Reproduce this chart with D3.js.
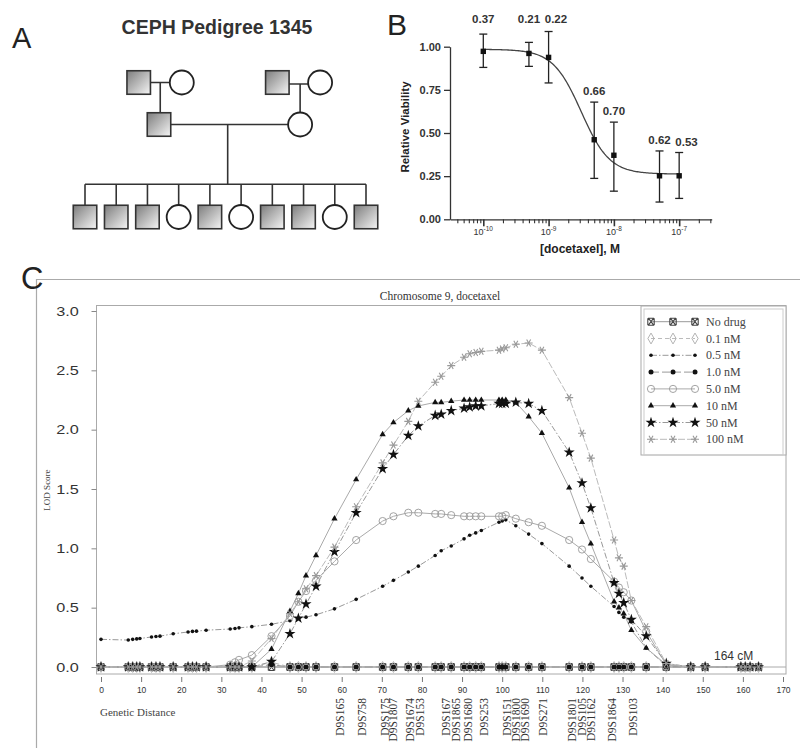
<!DOCTYPE html>
<html><head><meta charset="utf-8">
<script src="https://cdn.jsdelivr.net/npm/d3@7"></script>
<style>body{margin:0;background:#fff;} svg{display:block;}</style>
</head><body>
<svg id="fig" width="800" height="751"></svg>
<script>
// ================= DATA =================
// Panel A – pedigree
const pedTitle = "CEPH Pedigree 1345";
const childSex = ["M","M","M","F","M","F","M","M","F","M"];

// Panel B – dose response
const bConc = [1e-10, 5e-10, 1e-9, 5e-9, 1e-8, 5e-8, 1e-7];
const bMean = [0.973, 0.961, 0.938, 0.461, 0.371, 0.252, 0.252];
const bHigh = [1.073, 1.025, 1.088, 0.679, 0.563, 0.396, 0.387];
const bLow  = [0.880, 0.886, 0.790, 0.237, 0.163, 0.100, 0.121];
const bNote = ["0.37","0.21","0.22","0.66","0.70","0.62","0.53"];
const bYTicks = [0, 0.25, 0.5, 0.75, 1.0];
const bXTickExp = [-10, -9, -8, -7];
const fitTop = 0.985, fitBottom = 0.262, fitLogEC50 = -8.5, fitHill = 2.0;

// Panel C – LOD scores along chromosome 9
const cTitle = "Chromosome 9, docetaxel";
const cM = [0, 6.8, 7.9, 8.9, 9.7, 12.6, 13.7, 14.7, 18.0, 21.7, 22.8, 23.8, 26.2, 32.2, 33.4, 34.4,
  37.6, 42.5, 47.1, 49.2, 51.1, 53.6, 58.2, 63.6, 70.2, 72.9, 76.6, 79.1, 83.3, 84.8, 87.3, 90.5,
  91.9, 93.4, 94.8, 99.2, 100.0, 100.9, 103.4, 106.6, 109.9, 116.7, 119.9, 122.1, 127.9, 129.1,
  130.3, 132.2, 135.9, 140.9, 147.0, 150.6, 159.5, 160.6, 161.8, 163.9];
const lodNoDrug = [0,0,0,0,0,0,0,0,0,0,0,0,0,0,0,0, 0,0,0,0,0,0,0,0,0,0,0,0,0,0,0,0, 0,0,0,0,0,0,0,0,0,0,0,0,0,0, 0,0,0,0,0,0,0,0,0,0];
const lod01 = [0,0,0,0,0,0,0,0,0,0,0,0,0,0,0,0, 0,0.04,0,0,0,0,0,0,0,0,0,0,0,0,0,0, 0,0,0,0,0,0,0,0,0,0,0,0,0,0, 0,0,0,0,0,0,0,0,0,0];
const lod05 = [0.233,0.227,0.233,0.237,0.24,0.253,0.257,0.26,0.28,0.295,0.30,0.302,0.31,0.32,0.325,0.33,
  0.34,0.36,0.39,0.41,0.42,0.44,0.49,0.57,0.68,0.73,0.80,0.85,0.94,0.98,1.02,1.08,
  1.11,1.13,1.15,1.22,1.23,1.24,1.19,1.12,1.04,0.85,0.75,0.68,0.51,0.46,
  0.42,0.38,0.16,0.01,0,0,0,0,0,0];
const lod10 = [0,0,0,0,0,0,0,0,0,0,0,0,0,0,0,0, 0,0.02,0,0,0,0,0,0,0,0,0,0,0,0,0,0, 0,0,0,0,0,0,0,0,0,0,0,0,0,0, 0,0,0,0,0,0,0,0,0,0];
const lod5 = [0,0,0,0,0,0,0,0,0,0,0,0,0,0.02,0.04,0.06,
  0.10,0.26,0.43,0.55,0.64,0.73,0.89,1.07,1.23,1.27,1.30,1.30,1.29,1.29,1.28,1.27,
  1.27,1.27,1.27,1.27,1.27,1.28,1.25,1.22,1.19,1.07,0.99,0.91,0.72,0.67,
  0.63,0.56,0.30,0.02,0,0,0,0,0,0];
const lod10nM = [0,0,0,0,0,0,0,0,0,0,0,0,0,0,0,0,
  0,0.15,0.47,0.62,0.77,0.94,1.25,1.58,1.96,2.06,2.16,2.20,2.23,2.23,2.24,2.25,
  2.25,2.25,2.25,2.25,2.25,2.25,2.23,2.11,1.97,1.51,1.22,1.04,0.55,0.50,
  0.45,0.31,0.16,0.02,0,0,0,0,0,0];
const lod50nM = [0,0,0,0,0,0,0,0,0,0,0,0,0,0,0,0,
  0,0.045,0.28,0.41,0.53,0.68,0.97,1.30,1.67,1.79,1.95,2.03,2.12,2.13,2.16,2.18,
  2.19,2.20,2.20,2.22,2.22,2.22,2.23,2.22,2.16,1.81,1.55,1.34,0.71,0.62,
  0.54,0.40,0.26,0.03,0,0,0,0,0,0];
const lod100nM = [0,0,0,0,0,0,0,0,0,0,0,0,0,0,0,0,
  0.05,0.24,0.45,0.55,0.66,0.77,1.01,1.35,1.72,1.87,2.07,2.24,2.40,2.45,2.54,2.61,
  2.64,2.65,2.66,2.67,2.68,2.69,2.72,2.73,2.67,2.27,1.97,1.76,1.07,0.92,
  0.85,0.56,0.34,0.03,0,0,0,0,0,0];
const seriesNames = ["No drug","0.1 nM","0.5 nM","1.0 nM","5.0 nM","10 nM","50 nM","100 nM"];
const cYTicks = [0, 0.5, 1.0, 1.5, 2.0, 2.5, 3.0];
const cXTicks = d3.range(0, 171, 10);
const markerNames = ["D9S165","D9S758","D9S175","D9S1807","D9S1674","D9S153","D9S167","D9S1865","D9S1680",
  "D9S253","D9S151","D9S1800","D9S1690","D9S271","D9S1801","D9S105","D9S1162","D9S1864","D9S103"];
const markerPos = [59.6, 65.1, 70.8, 72.8, 77.0, 79.5, 86.0, 88.5, 91.5, 95.5, 101.2, 103.4, 105.7, 110.2,
  117.4, 119.9, 122.1, 127.4, 132.6];

// ================= DRAW =================
const SANS = "'Liberation Sans', Arial, sans-serif";
const SERIF = "'Liberation Serif', 'Times New Roman', serif";
const svg = d3.select("#fig");
svg.append("rect").attr("width",800).attr("height",751).attr("fill","#fff");
const defs = svg.append("defs");
const grad = defs.append("linearGradient").attr("id","sqGrad").attr("x1",0).attr("y1",0).attr("x2",1).attr("y2",1);
grad.append("stop").attr("offset","0%").attr("stop-color","#7c7c7c");
grad.append("stop").attr("offset","100%").attr("stop-color","#f6f6f6");

// ---------- Panel A ----------
const gA = svg.append("g");
gA.append("text").attr("x",12).attr("y",48).attr("font-family",SANS).attr("font-size",29).attr("fill","#222").text("A");
gA.append("text").attr("x",217).attr("y",34).attr("text-anchor","middle").attr("font-family",SANS)
  .attr("font-weight","bold").attr("font-size",19.5).attr("fill","#333").text(pedTitle);

const xA = d3.scaleLinear().domain([0, childSex.length-1]).range([85, 366]);
const genY = [82.5, 124.5, 217];
const S = 23.5;
const ped = [
  {sex:"M", slot:1.72, gen:0}, {sex:"F", slot:3.1, gen:0},
  {sex:"M", slot:6.16, gen:0}, {sex:"F", slot:7.53, gen:0},
  {sex:"M", slot:2.37, gen:1}, {sex:"F", slot:6.89, gen:1}
].concat(childSex.map((s,i)=>({sex:s, slot:i, gen:2})));
const lineA = gA.append("g").attr("stroke","#333").attr("stroke-width",1.6).attr("fill","none");
const P = ped.map(d=>({...d, x:xA(d.slot), y:genY[d.gen]}));
lineA.append("line").attr("x1",P[0].x).attr("x2",P[1].x).attr("y1",P[0].y).attr("y2",P[0].y);
lineA.append("line").attr("x1",P[2].x).attr("x2",P[3].x).attr("y1",P[2].y+1.5).attr("y2",P[2].y+1.5);
lineA.append("line").attr("x1",(P[0].x+P[1].x)/2).attr("x2",(P[0].x+P[1].x)/2).attr("y1",P[0].y).attr("y2",P[4].y);
lineA.append("line").attr("x1",P[5].x).attr("x2",P[5].x).attr("y1",P[2].y+1.5).attr("y2",P[5].y);
lineA.append("line").attr("x1",P[4].x).attr("x2",P[5].x).attr("y1",P[4].y).attr("y2",P[4].y);
const midX = xA(4.57), sibY = 184.3;
lineA.append("line").attr("x1",midX).attr("x2",midX).attr("y1",P[4].y).attr("y2",sibY);
lineA.append("line").attr("x1",xA(0)).attr("x2",xA(childSex.length-1)).attr("y1",sibY).attr("y2",sibY);
lineA.selectAll("line.kid").data(childSex).join("line").attr("class","kid")
  .attr("x1",(d,i)=>xA(i)).attr("x2",(d,i)=>xA(i)).attr("y1",sibY).attr("y2",genY[2]);
const nodes = gA.selectAll("g.ind").data(P).join("g").attr("class","ind")
  .attr("transform",d=>`translate(${d.x},${d.y})`);
nodes.filter(d=>d.sex==="M").append("rect").attr("x",-S/2).attr("y",-S/2).attr("width",S).attr("height",S)
  .attr("fill","url(#sqGrad)").attr("stroke","#333").attr("stroke-width",1.6);
nodes.filter(d=>d.sex==="F").append("circle").attr("r",12).attr("fill","#fff").attr("stroke","#222").attr("stroke-width",1.8);

// ---------- Panel B ----------
const gB = svg.append("g");
gB.append("text").attr("x",387).attr("y",35).attr("font-family",SANS).attr("font-size",30).attr("fill","#222").text("B");
const xB = d3.scaleLog().domain([3.09e-11, 3.15e-7]).range([450, 711.7]);
const yB = d3.scaleLinear().domain([0,1]).range([219.3, 46.7]);
const yAxB = gB.append("g").attr("transform","translate(450,0)")
  .call(d3.axisLeft(yB).tickValues(bYTicks).tickFormat(d3.format(".2f")).tickSize(6).tickSizeOuter(0));
yAxB.selectAll("text").attr("font-family",SANS).attr("font-size",11).attr("font-weight","bold").attr("fill","#333");
yAxB.selectAll("path,line").attr("stroke","#333").attr("stroke-width",1.3);
const minors = [];
for (let e=-11; e<=-7; e++) for (let k=1; k<=9; k++) { const v=k*Math.pow(10,e); if (v>=3.2e-11 && v<=3.15e-7) minors.push(v); }
const isMajor = d => bXTickExp.some(e=>Math.abs(Math.log10(d)-e)<1e-6);
const xAxB = gB.append("g").attr("transform","translate(0,219.3)")
  .call(d3.axisBottom(xB).tickValues(minors).tickFormat("").tickSize(4).tickSizeOuter(0));
xAxB.selectAll("line").attr("stroke-width",d=>isMajor(d)?1.6:1.1).attr("y2",d=>isMajor(d)?7:4);
xAxB.selectAll("path,line").attr("stroke","#333");
xAxB.select("path").attr("stroke-width",1.3);
const xl = gB.selectAll("text.xt").data(bXTickExp).join("text").attr("class","xt")
  .attr("x",d=>xB(Math.pow(10,d))).attr("y",235).attr("text-anchor","middle")
  .attr("font-family",SANS).attr("font-size",9).attr("fill","#333");
xl.append("tspan").text("10");
xl.append("tspan").attr("dy",-4).attr("font-size",6.5).text(d=>"-"+(-d));
gB.append("text").attr("x",580).attr("y",253).attr("text-anchor","middle").attr("font-family",SANS)
  .attr("font-weight","bold").attr("font-size",12).attr("fill","#222").text("[docetaxel], M");
gB.append("text").attr("transform","translate(409,127) rotate(-90)").attr("text-anchor","middle").attr("font-family",SANS)
  .attr("font-weight","bold").attr("font-size",11.5).attr("fill","#222").text("Relative Viability");
const fit = lc => fitBottom + (fitTop-fitBottom)/(1+Math.pow(10,(lc-fitLogEC50)*fitHill));
const fitX = d3.range(-10, -6.999, 0.02);
gB.append("path").datum(fitX).attr("fill","none").attr("stroke","#444").attr("stroke-width",1.3)
  .attr("d", d3.line().x(d=>xB(Math.pow(10,d))).y(d=>yB(fit(d))));
const pB = gB.selectAll("g.pt").data(bConc).join("g").attr("class","pt");
pB.append("line").attr("x1",d=>xB(d)).attr("x2",d=>xB(d)).attr("y1",(d,i)=>yB(bLow[i])).attr("y2",(d,i)=>yB(bHigh[i]))
  .attr("stroke","#222").attr("stroke-width",1.3);
pB.append("line").attr("x1",d=>xB(d)-4).attr("x2",d=>xB(d)+4).attr("y1",(d,i)=>yB(bLow[i])).attr("y2",(d,i)=>yB(bLow[i]))
  .attr("stroke","#222").attr("stroke-width",1.3);
pB.append("line").attr("x1",d=>xB(d)-4).attr("x2",d=>xB(d)+4).attr("y1",(d,i)=>yB(bHigh[i])).attr("y2",(d,i)=>yB(bHigh[i]))
  .attr("stroke","#222").attr("stroke-width",1.3);
pB.append("rect").attr("x",d=>xB(d)-2.7).attr("y",(d,i)=>yB(bMean[i])-2.7).attr("width",5.4).attr("height",5.4).attr("fill","#111");
// annotation placement: above error bar, top row for bars reaching 1.0, shifted right if colliding with previous label
const notePos = [];
bConc.forEach((c,i)=>{
  let x = xB(c), y = bHigh[i] >= 1 ? 23 : yB(bHigh[i]) - 7;
  const prev = notePos[i-1];
  if (prev && Math.abs(prev.y - y) < 11 && x - prev.x < 27) x = prev.x + 27;
  notePos.push({x,y});
});
gB.selectAll("text.note").data(bNote).join("text").attr("class","note")
  .attr("x",(d,i)=>notePos[i].x).attr("y",(d,i)=>notePos[i].y)
  .attr("text-anchor","middle").attr("font-family",SANS).attr("font-weight","bold").attr("font-size",11.5).attr("fill","#333")
  .text(d=>d);

// ---------- Panel C ----------
const gC = svg.append("g");
gC.append("line").attr("x1",36).attr("x2",800).attr("y1",279.5).attr("y2",279.5).attr("stroke","#aaa").attr("stroke-width",1.2);
gC.append("line").attr("x1",36.5).attr("x2",36.5).attr("y1",279).attr("y2",748).attr("stroke","#aaa").attr("stroke-width",1.2);
gC.append("text").attr("x",21).attr("y",289).attr("font-family",SANS).attr("font-size",31).attr("fill","#222").text("C");
const xC = d3.scaleLinear().domain([0,170]).range([101,783]);
const yC = d3.scaleLinear().domain([0,3]).range([667,311]);
gC.append("rect").attr("x",96.5).attr("y",305.5).attr("width",689.5).attr("height",368.5).attr("fill","none").attr("stroke","#aaa").attr("stroke-width",1);
gC.append("line").attr("x1",96.5).attr("x2",786).attr("y1",yC(0)).attr("y2",yC(0)).attr("stroke","#aaa").attr("stroke-width",1);
gC.append("text").attr("x",440).attr("y",300).attr("text-anchor","middle").attr("font-family",SERIF).attr("font-size",11.5).attr("fill","#333").text(cTitle);
const yAxC = gC.append("g").attr("transform","translate(96.5,0)")
  .call(d3.axisLeft(yC).tickValues(cYTicks).tickFormat(d3.format(".1f")).tickSize(5).tickPadding(6));
yAxC.select(".domain").remove();
yAxC.selectAll("line").attr("stroke","#888");
yAxC.selectAll("text").attr("font-family",SANS).attr("font-size",12.5).attr("fill","#333")
  .attr("transform",function(){ const x=+d3.select(this).attr("x"); return `translate(${x*0.3},0) scale(1.3,1)`; });
const xAxC = gC.append("g").attr("transform","translate(0,674)")
  .call(d3.axisBottom(xC).tickValues(cXTicks).tickFormat(d3.format("d")).tickSize(8).tickPadding(5));
xAxC.select(".domain").remove();
xAxC.selectAll("line").attr("stroke","#777").attr("y1",3);
xAxC.selectAll("text").attr("font-family",SANS).attr("font-size",8.5).attr("fill","#333");
gC.append("text").attr("x",100).attr("y",716).attr("font-family",SERIF).attr("font-size",11).attr("fill","#444").text("Genetic Distance");
gC.append("text").attr("transform","translate(50,490) rotate(-90)").attr("text-anchor","middle").attr("font-family",SERIF)
  .attr("font-size",9).attr("fill","#444").text("LOD Score");
gC.append("text").attr("x",714).attr("y",660).attr("font-family",SANS).attr("font-size",12).attr("fill","#333").text("164  cM");
gC.selectAll("text.mk").data(markerNames).join("text").attr("class","mk")
  .attr("transform",(d,i)=>`translate(${xC(markerPos[i])},698) rotate(-90)`).attr("dy","0.35em")
  .attr("text-anchor","end").attr("font-family",SERIF).attr("font-size",11.5).attr("fill","#333").text(d=>d);

function drawMarker(g, type){
  switch(type){
    case "boxx": g.append("path").attr("d","M-3,-3.5H3 M-3,3.5H3 M-2.6,-3.5L2.6,3.5 M2.6,-3.5L-2.6,3.5 M-3.2,-3.5V3.5 M3.2,-3.5V3.5").attr("fill","none").attr("stroke","#444").attr("stroke-width",1.1); break;
    case "diamond": g.append("path").attr("d",d3.symbol(d3.symbolDiamond,34)()).attr("fill","none").attr("stroke","#aaa").attr("stroke-width",0.9); break;
    case "dotS": g.append("circle").attr("r",1.8).attr("fill","#111"); break;
    case "dotL": g.append("circle").attr("r",2.5).attr("fill","#111"); break;
    case "circle": g.append("circle").attr("r",3.6).attr("fill","none").attr("stroke","#999").attr("stroke-width",0.9); break;
    case "tri": g.append("path").attr("d",d3.symbol(d3.symbolTriangle,17)()).attr("fill","#111"); break;
    case "star": g.append("path").attr("d",d3.symbol(d3.symbolStar,38)()).attr("fill","#111"); break;
    case "ast": g.append("path").attr("d","M-4,0H4 M-2,-3.5L2,3.5 M2,-3.5L-2,3.5").attr("fill","none").attr("stroke","#999").attr("stroke-width",1.1); break;
  }
}
const series = [
  {name:seriesNames[0], v:lodNoDrug, m:"boxx", dash:null, col:"#999"},
  {name:seriesNames[1], v:lod01, m:"diamond", dash:"4,3", col:"#bbb"},
  {name:seriesNames[2], v:lod05, m:"dotS", dash:"6,2,1.5,2", col:"#999"},
  {name:seriesNames[3], v:lod10, m:"dotL", dash:"8,3", col:"#999"},
  {name:seriesNames[4], v:lod5, m:"circle", dash:null, col:"#aaa"},
  {name:seriesNames[5], v:lod10nM, m:"tri", dash:null, col:"#aaa"},
  {name:seriesNames[6], v:lod50nM, m:"star", dash:"6,2,1.5,2", col:"#999"},
  {name:seriesNames[7], v:lod100nM, m:"ast", dash:"7,2", col:"#bbb"}
];
const lineC = d3.line().x((d,i)=>xC(cM[i])).y(d=>yC(d));
const linesG = gC.append("g"), marksG = gC.append("g");
series.forEach(s=>{
  linesG.append("path").datum(s.v).attr("fill","none").attr("stroke",s.col).attr("stroke-width",1)
    .attr("stroke-dasharray",s.dash).attr("d",lineC);
});
series.forEach(s=>{
  marksG.append("g").selectAll("g").data(s.v).join("g")
    .attr("transform",(d,i)=>`translate(${xC(cM[i])},${yC(d)})`)
    .each(function(){ drawMarker(d3.select(this), s.m); });
});
const lg = gC.append("g");
lg.append("rect").attr("x",641).attr("y",306).attr("width",145).attr("height",149).attr("fill","#fff").attr("stroke","#aaa");
lg.append("rect").attr("x",644).attr("y",309).attr("width",139).attr("height",146).attr("fill","none").attr("stroke","#ccc");
const rows = lg.selectAll("g.row").data(series).join("g").attr("class","row")
  .attr("transform",(d,i)=>`translate(0,${321.7+i*16.8})`);
rows.append("line").attr("x1",651).attr("x2",695).attr("stroke",d=>d.col).attr("stroke-dasharray",d=>d.dash);
rows.each(function(s){
  const r = d3.select(this);
  [651,673,695].forEach(x=>{ const g=r.append("g").attr("transform",`translate(${x},0)`); drawMarker(g,s.m); });
});
rows.append("text").attr("x",706).attr("y",4).attr("font-family",SERIF).attr("font-size",12).attr("fill","#444").text(d=>d.name);
</script>
</body></html>
